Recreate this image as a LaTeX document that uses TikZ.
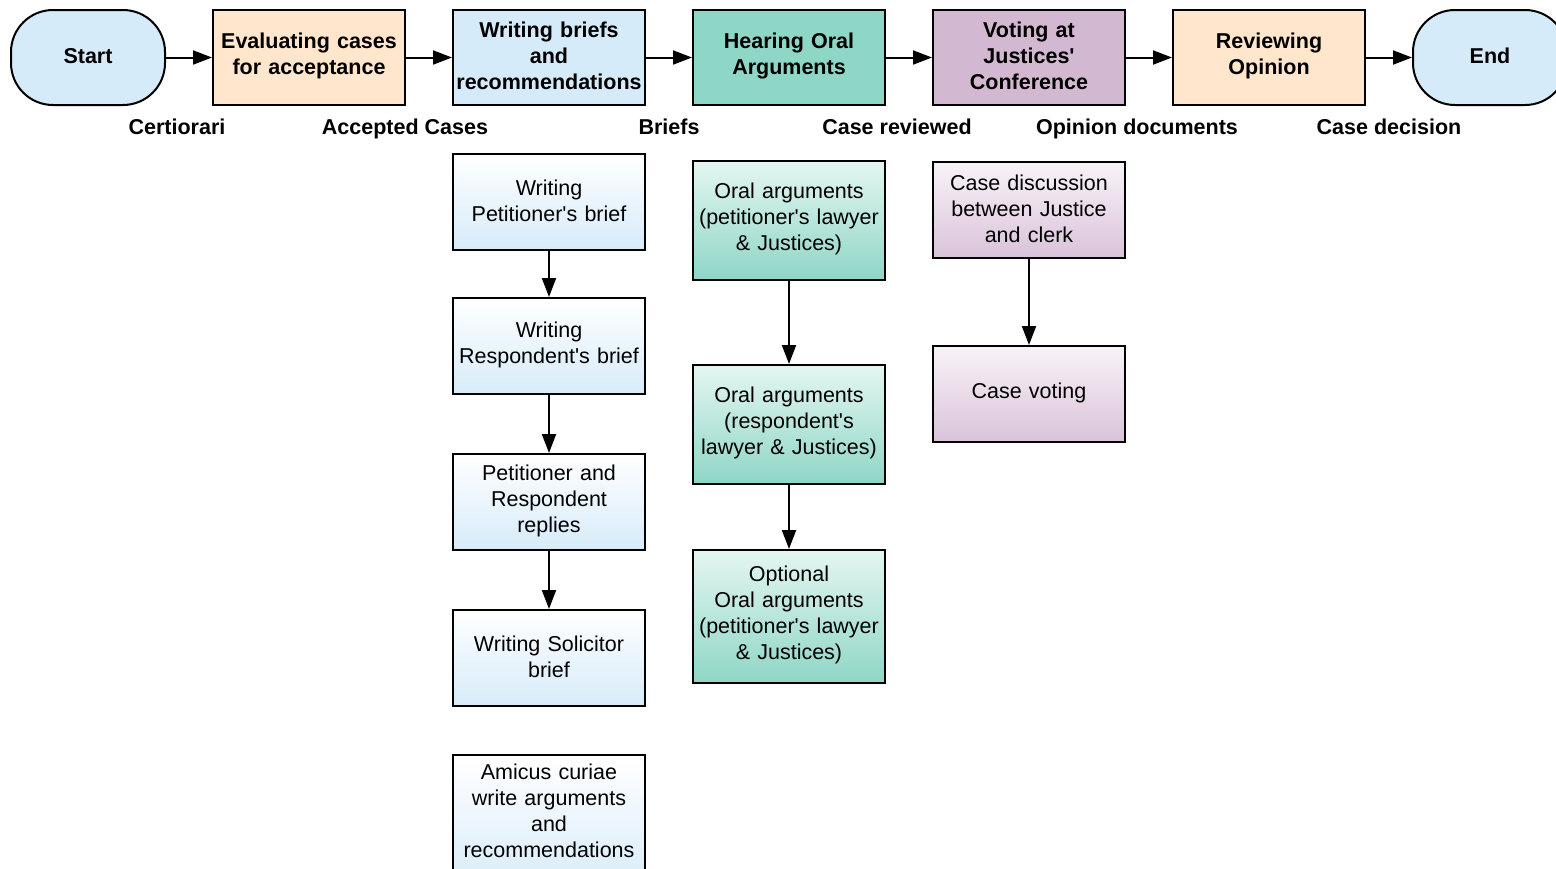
\documentclass[tikz,border=0pt]{standalone}
\usepackage{fontspec}
\setmainfont{Liberation Sans}
\usetikzlibrary{arrows.meta}
\newcommand{\qsgl}{\textquotesingle}
\newcommand{\liftend}{\par\vspace{3pt}}
\definecolor{cblue}{HTML}{D6EBF9}
\definecolor{cpeach}{HTML}{FFE6CC}
\definecolor{cteal}{HTML}{8ED6C6}
\definecolor{clilac}{HTML}{D3B8D2}
\definecolor{tealtop}{HTML}{E4F6F1}
\definecolor{lilactop}{HTML}{F8F3F8}
\begin{document}
\begin{tikzpicture}[x=1pt,y=-1pt,
  every node/.style={font=\fontsize{21.5}{26}\selectfont},
  lift/.style={execute at end node=\liftend},
  topbox/.style={draw=black, line width=2pt, minimum width=192pt, minimum height=95pt,
    text width=190pt, align=center, inner sep=0pt, lift, font=\fontsize{21.5}{26}\selectfont\bfseries},
  term/.style={topbox, rounded corners=42pt, minimum width=154pt, text width=150pt, fill=cblue},
  subbox/.style={draw=black, line width=2pt, minimum width=192pt, minimum height=96pt,
    text width=190pt, align=center, inner sep=0pt, lift},
  bluegrad/.style={top color=white, bottom color=cblue},
  tealgrad/.style={top color=tealtop, bottom color=cteal},
  lilacgrad/.style={top color=lilactop, bottom color=clilac!85},
  flowlabel/.style={font=\fontsize{21.5}{26}\selectfont\bfseries, inner sep=0pt, anchor=base},
  conn/.style={line width=2pt, -{Triangle[length=19pt,width=14pt]}}
]
\useasboundingbox (0,0) rectangle (1556,868);
\clip (0,0) rectangle (1556,868);
\fill[white] (0,0) rectangle (1556,868);

% top row
\node[term] (start) at (88,57.5) {Start};
\node[topbox, fill=cpeach] (eval) at (309,57.5) {Evaluating cases\\for acceptance};
\node[topbox, fill=cblue] (brief) at (549,57.5) {Writing briefs\\and\\recommendations};
\node[topbox, fill=cteal] (hear) at (789,57.5) {Hearing Oral\\Arguments};
\node[topbox, fill=clilac] (vote) at (1029,57.5) {Voting at\\Justices\qsgl\\Conference};
\node[topbox, fill=cpeach] (review) at (1269,57.5) {Reviewing\\Opinion};
\node[term] (end) at (1490,57.5) {End};

\draw[conn] (start) -- (eval);
\draw[conn] (eval) -- (brief);
\draw[conn] (brief) -- (hear);
\draw[conn] (hear) -- (vote);
\draw[conn] (vote) -- (review);
\draw[conn] (review) -- (end);

% flow labels
\node[flowlabel] (l1) at (177,134.5) {Certiorari};
\node[flowlabel] (l2) at (405,134.5) {Accepted Cases};
\node[flowlabel] (l3) at (669,134.5) {Briefs};
\node[flowlabel] (l4) at (897,134.5) {Case reviewed};
\node[flowlabel] (l5) at (1137,134.5) {Opinion documents};
\node[flowlabel] (l6) at (1389,134.5) {Case decision};

% column 1
\node[subbox, bluegrad] (b1) at (549,202) {Writing\\Petitioner\qsgl s brief};
\node[subbox, bluegrad] (b2) at (549,346) {Writing\\Respondent\qsgl s brief};
\node[subbox, bluegrad] (b3) at (549,502) {Petitioner and\\Respondent\\replies};
\node[subbox, bluegrad] (b4) at (549,658) {Writing Solicitor\\brief};
\draw[line width=2pt, top color=white, bottom color=cblue] (453,755) rectangle (645,895);
\node[align=center, text width=190pt, inner sep=0pt, lift] (b5) at (549,812) {Amicus curiae\\write arguments\\and\\recommendations};
\draw[conn] (b1) -- (b2);
\draw[conn] (b2) -- (b3);
\draw[conn] (b3) -- (b4);

% column 2
\node[subbox, tealgrad, minimum height=119pt] (o1) at (789,220.5) {Oral arguments\\(petitioner\qsgl s lawyer\\\& Justices)};
\node[subbox, tealgrad, minimum height=119pt] (o2) at (789,424.5) {Oral arguments\\(respondent\qsgl s\\lawyer \& Justices)};
\node[subbox, tealgrad, minimum height=133pt] (o3) at (789,616.5) {Optional\\Oral arguments\\(petitioner\qsgl s lawyer\\\& Justices)};
\draw[conn] (o1) -- (o2);
\draw[conn] (o2) -- (o3);

% column 3
\node[subbox, lilacgrad] (v1) at (1029,210) {Case discussion\\between Justice\\and clerk};
\node[subbox, lilacgrad] (v2) at (1029,394) {Case voting};
\draw[conn] (v1) -- (v2);
\end{tikzpicture}
\end{document}
